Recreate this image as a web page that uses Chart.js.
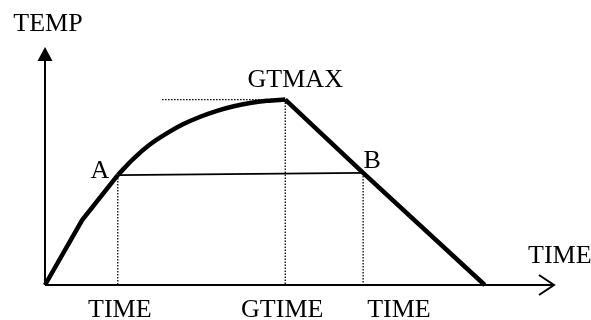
<!DOCTYPE html>
<html lang="en">
<head>
    <meta charset="UTF-8">
    <title>Temperature Curve</title>
    <script src="https://cdn.jsdelivr.net/npm/chart.js"></script>
    <style>
        html, body { margin: 0; padding: 0; background: #fff; }
        #wrap { width: 591px; height: 320px; }
    </style>
</head>
<body>
    <div id="wrap"><canvas id="tempChart"></canvas></div>

    <script>
        // heating: straight rise from zero up to point A
        const riseTime = [0, 7.3, 14.3];
        const riseTemp = [0, 27.3, 46.2];
        // smooth approach to the maximum
        const arcTime = [14.3, 17.3, 20.6, 24.0, 27.1, 30.5, 33.8, 36.9, 40.3, 43.6, 47.2];
        const arcTemp = [46.2, 52.9, 59.0, 63.8, 67.5, 70.7, 73.2, 75.0, 76.5, 77.4, 77.9];
        // linear cooling after GTIME, passing B
        const fallTime = [47.2, 62.5, 86.4];
        const fallTemp = [77.9, 47.1, 0];

        const pointA = { x: 14.3, y: 46.2 };
        const pointB = { x: 62.5, y: 47.1 };
        const peak = { x: 47.2, y: 77.9 };

        const font = '26px "Liberation Serif", "Times New Roman", serif';

        function pts(xs, ys) {
            return xs.map((x, i) => ({ x: x, y: ys[i] }));
        }

        const dotted = {
            borderColor: '#000',
            borderWidth: 1.3,
            borderDash: [1.5, 1.5],
            pointRadius: 0,
            tension: 0,
            clip: false
        };

        const solid = {
            borderColor: '#000',
            borderWidth: 4.5,
            pointRadius: 0,
            tension: 0,
            clip: false
        };

        // axes with arrows + text labels
        const sketchPlugin = {
            id: 'sketch',
            afterDatasetsDraw(chart) {
                const ctx = chart.ctx;
                const xs = chart.scales.x, ys = chart.scales.y;
                const ox = xs.getPixelForValue(0), oy = ys.getPixelForValue(0);
                const top = chart.chartArea.top, right = chart.chartArea.right;

                ctx.save();
                ctx.strokeStyle = '#000';
                ctx.fillStyle = '#000';
                ctx.lineWidth = 2;

                // y axis, filled arrow head
                ctx.beginPath();
                ctx.moveTo(ox, oy);
                ctx.lineTo(ox, top + 12);
                ctx.stroke();
                ctx.beginPath();
                ctx.moveTo(ox, top);
                ctx.lineTo(ox - 7.5, top + 14);
                ctx.lineTo(ox + 7.5, top + 14);
                ctx.closePath();
                ctx.fill();

                // x axis, open arrow head
                ctx.beginPath();
                ctx.moveTo(ox, oy);
                ctx.lineTo(right, oy);
                ctx.stroke();
                ctx.beginPath();
                ctx.moveTo(right - 15, oy - 10);
                ctx.lineTo(right, oy);
                ctx.lineTo(right - 15, oy + 10);
                ctx.stroke();

                ctx.font = font;
                ctx.textBaseline = 'alphabetic';

                const ax = xs.getPixelForValue(pointA.x), ay = ys.getPixelForValue(pointA.y);
                const bx = xs.getPixelForValue(pointB.x), by = ys.getPixelForValue(pointB.y);
                const px = xs.getPixelForValue(peak.x), py = ys.getPixelForValue(peak.y);

                ctx.textAlign = 'center';
                ctx.fillText('TEMP', ox + 3, top - 16);
                ctx.fillText('GTMAX', px + 10, py - 13);
                ctx.fillText('A', ax - 18, ay + 3);
                ctx.fillText('B', bx + 9, by - 5);
                ctx.fillText('TIME', ax + 2, oy + 32);
                ctx.fillText('GTIME', px - 3, oy + 32);

                ctx.textAlign = 'left';
                ctx.fillText('TIME', bx + 4, oy + 32);
                ctx.fillText('TIME', right - 26, oy - 22);
                ctx.restore();
            }
        };

        new Chart(document.getElementById('tempChart'), {
            type: 'line',
            data: {
                datasets: [
                    Object.assign({}, dotted, { data: [{ x: pointA.x, y: pointA.y }, { x: pointA.x, y: 0 }] }),
                    Object.assign({}, dotted, { data: [{ x: peak.x, y: peak.y }, { x: peak.x, y: 0 }] }),
                    Object.assign({}, dotted, { data: [{ x: pointB.x, y: pointB.y }, { x: pointB.x, y: 0 }] }),
                    Object.assign({}, dotted, { data: [{ x: 23, y: peak.y }, { x: peak.x, y: peak.y }] }),
                    {
                        data: [pointA, pointB],
                        borderColor: '#000',
                        borderWidth: 1.8,
                        pointRadius: 0,
                        tension: 0,
                        clip: false
                    },
                    Object.assign({}, solid, { data: pts(riseTime, riseTemp) }),
                    Object.assign({}, solid, {
                        data: pts(arcTime, arcTemp),
                        cubicInterpolationMode: 'monotone'
                    }),
                    Object.assign({}, solid, { data: pts(fallTime, fallTemp) })
                ]
            },
            options: {
                responsive: true,
                maintainAspectRatio: false,
                animation: false,
                layout: { padding: { left: 45, right: 37, top: 47, bottom: 35 } },
                plugins: {
                    legend: { display: false },
                    tooltip: { enabled: false }
                },
                scales: {
                    x: { type: 'linear', min: 0, max: 100, display: false },
                    y: { type: 'linear', min: 0, max: 100, display: false }
                }
            },
            plugins: [sketchPlugin]
        });
    </script>
</body>
</html>
